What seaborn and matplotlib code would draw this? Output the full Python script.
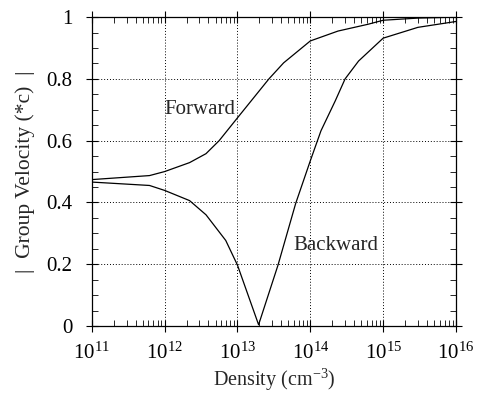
import numpy as np
import pandas as pd
import matplotlib
matplotlib.use("Agg")
import matplotlib.pyplot as plt
from matplotlib.ticker import MultipleLocator, LogLocator, FuncFormatter
import seaborn as sns

# data
density_fwd = [1e11, 6.2e11, 1e12, 2.2e12, 3.7e12, 5.6e12, 1e13, 2.7e13, 4.3e13,
               1e14, 2.4e14, 6.2e14, 1e15, 3e15, 1e16]
vel_fwd = [0.474, 0.487, 0.50, 0.529, 0.558, 0.60, 0.674, 0.80, 0.852,
           0.923, 0.955, 0.977, 0.99, 0.997, 1.0]

density_bwd = [1e11, 6.2e11, 1e12, 2.2e12, 3.7e12, 6.9e12, 1e13, 1.95e13,
               3.6e13, 6.3e13, 1e14, 1.4e14, 2.2e14, 3e14, 4.6e14,
               1e15, 3e15, 1e16]
vel_bwd = [0.466, 0.455, 0.439, 0.406, 0.36, 0.277, 0.197, 0.004,
           0.197, 0.397, 0.535, 0.632, 0.729, 0.80, 0.858,
           0.932, 0.967, 0.986]

df = pd.concat([
    pd.DataFrame({"density": density_fwd, "velocity": vel_fwd, "mode": "Forward"}),
    pd.DataFrame({"density": density_bwd, "velocity": vel_bwd, "mode": "Backward"}),
])

sns.set_theme(style="ticks")
plt.rcParams["font.family"] = ["Liberation Serif", "DejaVu Serif"]
plt.rcParams["mathtext.fontset"] = "custom"
plt.rcParams["mathtext.rm"] = "Liberation Serif"
plt.rcParams["mathtext.it"] = "Liberation Serif:italic"

fig = plt.figure(figsize=(4.78, 3.99), dpi=100)
ax = fig.add_axes([0.192, 0.183, 0.762, 0.774])

sns.lineplot(data=df, x="density", y="velocity", units="mode", estimator=None,
             color="black", lw=0.9, ax=ax, legend=False)

ax.set_xscale("log")
ax.set_xlim(1e11, 1e16)
ax.set_ylim(0, 1)

ax.xaxis.set_major_locator(LogLocator(base=10, numticks=10))
ax.xaxis.set_minor_locator(LogLocator(base=10, subs=np.arange(2, 10), numticks=20))
ax.yaxis.set_major_locator(MultipleLocator(0.2))
ax.yaxis.set_minor_locator(MultipleLocator(0.05))
ax.yaxis.set_major_formatter(FuncFormatter(
    lambda v, p: "0" if abs(v) < 1e-9 else ("1" if abs(v - 1) < 1e-9 else f"{v:.1f}")))

ax.tick_params(which="major", direction="inout", length=8, width=0.8,
               top=True, right=True, labelsize=15, colors="black")
ax.tick_params(axis="y", which="major", pad=10)
ax.tick_params(axis="x", which="major", pad=8)
ax.tick_params(which="minor", direction="in", length=4, width=0.7,
               top=True, right=True)

for s in ax.spines.values():
    s.set_color("black")
    s.set_linewidth(0.9)

ax.grid(which="major", color="black", ls=(0, (1, 2)), lw=0.7)

ax.text(1e12, 0.70, "Forward", fontsize=15, ha="left", va="center")
ax.text(5.8e13, 0.26, "Backward", fontsize=15, ha="left", va="center")

ax.set_xlabel("Density (cm$^{-3}$)", fontsize=14.5, labelpad=2)
ax.set_ylabel("|  Group Velocity (*c)  |", fontsize=15.5, labelpad=8)

fig.savefig("out.png", dpi=100)
